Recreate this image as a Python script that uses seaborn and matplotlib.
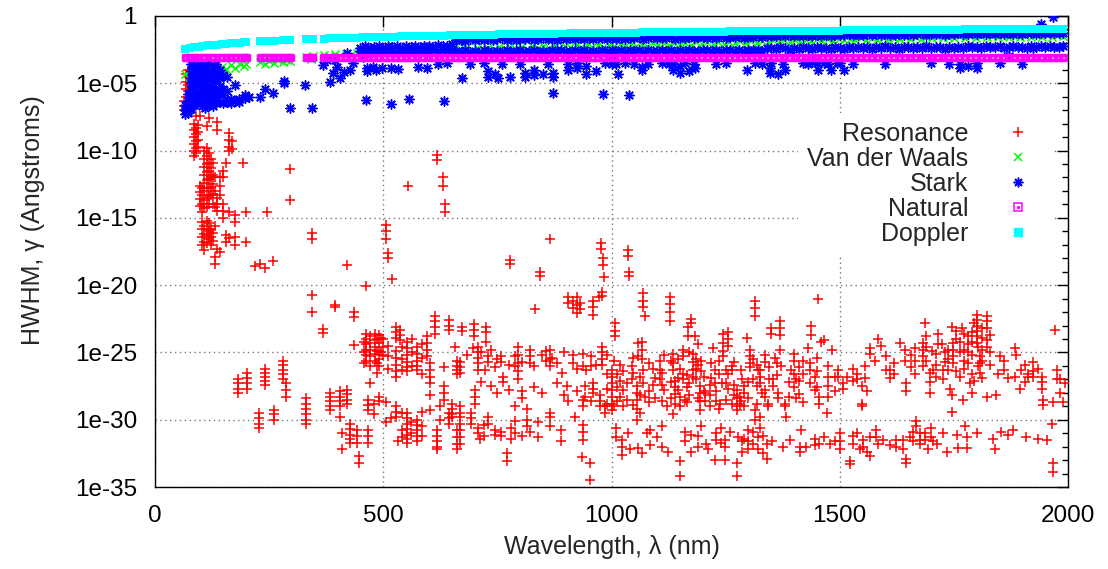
import numpy as np
import pandas as pd
import matplotlib
matplotlib.use("Agg")
import matplotlib.pyplot as plt
import seaborn as sns
from matplotlib.lines import Line2D
from matplotlib.legend_handler import HandlerTuple
from matplotlib.ticker import FixedLocator, FuncFormatter

# ---------------- data (wavelength in nm, HWHM as log10 exponent) ----------------
line_wl = [66, 76, 86, 96, 106, 116, 126, 136, 146, 156, 166, 176, 186, 196, 200,
           230, 240, 250, 260, 270, 280, 290, 296,
           331, 341, 346,
           370, 382, 394, 406, 418, 430, 442, 454, 466, 478, 490, 502, 514, 526, 538, 550, 562, 574, 586, 598,
           610, 622, 634, 646, 658, 670, 682, 694, 706, 718, 730, 742, 754, 766, 778, 790, 802, 814, 826, 838,
           850, 862, 874, 886, 898, 910, 922, 934, 946, 958, 970, 982, 994, 1006, 1018, 1030, 1042, 1054, 1066, 1078,
           1090, 1102, 1114, 1126, 1138, 1150, 1162, 1174, 1186, 1198, 1210, 1222, 1234, 1246, 1258, 1270, 1282, 1294, 1306, 1318,
           1330, 1342, 1354, 1366, 1378, 1390, 1402, 1414, 1426, 1438, 1450, 1462, 1474, 1486, 1498, 1510, 1522, 1534, 1546, 1558,
           1570, 1582, 1594, 1606, 1618, 1630, 1642, 1654, 1666, 1678, 1690, 1702, 1714, 1726, 1738, 1750, 1762, 1774, 1786, 1798,
           1810, 1822, 1834, 1846, 1858, 1870, 1882, 1894, 1906, 1918, 1930, 1942, 1954, 1966, 1978, 1990]

doppler_exp = [-2.43, -2.37, -2.32, -2.27, -2.23, -2.19, -2.15, -2.12, -2.09, -2.06, -2.03, -2.01, -1.98, -1.96, -1.95,
               -1.89, -1.87, -1.85, -1.84, -1.82, -1.80, -1.79, -1.78,
               -1.73, -1.72, -1.71,
               -1.68, -1.67, -1.66, -1.64, -1.63, -1.62, -1.61, -1.59, -1.58, -1.57, -1.56, -1.55, -1.54, -1.53, -1.52, -1.51, -1.50, -1.49, -1.48, -1.48,
               -1.47, -1.46, -1.45, -1.44, -1.43, -1.43, -1.42, -1.41, -1.40, -1.40, -1.39, -1.38, -1.37, -1.37, -1.36, -1.35, -1.35, -1.34, -1.34, -1.33,
               -1.32, -1.32, -1.31, -1.30, -1.30, -1.29, -1.29, -1.28, -1.28, -1.27, -1.27, -1.26, -1.25, -1.25, -1.24, -1.24, -1.23, -1.23, -1.22, -1.22,
               -1.21, -1.21, -1.21, -1.20, -1.20, -1.19, -1.19, -1.18, -1.18, -1.17, -1.17, -1.16, -1.16, -1.16, -1.15, -1.15, -1.14, -1.14, -1.14, -1.13,
               -1.13, -1.12, -1.12, -1.12, -1.11, -1.11, -1.11, -1.10, -1.10, -1.09, -1.09, -1.09, -1.08, -1.08, -1.08, -1.07, -1.07, -1.07, -1.06, -1.06,
               -1.06, -1.05, -1.05, -1.05, -1.04, -1.04, -1.04, -1.03, -1.03, -1.03, -1.02, -1.02, -1.02, -1.02, -1.01, -1.01, -1.01, -1.00, -1.00, -1.00,
               -0.99, -0.99, -0.99, -0.99, -0.98, -0.98, -0.98, -0.97, -0.97, -0.97, -0.97, -0.96, -0.96, -0.96, -0.96, -0.95]

natural_exp = [-3.07, -3.09, -3.06, -3.08, -3.07, -3.05, -3.08, -3.07, -3.09, -3.06, -3.08, -3.07, -3.06, -3.08, -3.07,
               -3.08, -3.06, -3.07, -3.09, -3.07, -3.06, -3.08, -3.07,
               -3.07, -3.08, -3.06,
               -3.07, -3.08, -3.06, -3.07, -3.09, -3.07, -3.06, -3.08, -3.07, -3.07, -3.08, -3.06, -3.07, -3.09, -3.07, -3.06, -3.08, -3.07, -3.07, -3.08,
               -3.07, -3.08, -3.06, -3.07, -3.09, -3.07, -3.06, -3.08, -3.07, -3.07, -3.08, -3.06, -3.07, -3.09, -3.07, -3.06, -3.08, -3.07, -3.07, -3.08,
               -3.07, -3.08, -3.06, -3.07, -3.09, -3.07, -3.06, -3.08, -3.07, -3.07, -3.08, -3.06, -3.07, -3.09, -3.07, -3.06, -3.08, -3.07, -3.07, -3.08,
               -3.07, -3.08, -3.06, -3.07, -3.09, -3.07, -3.06, -3.08, -3.07, -3.07, -3.08, -3.06, -3.07, -3.09, -3.07, -3.06, -3.08, -3.07, -3.07, -3.08,
               -3.07, -3.08, -3.06, -3.07, -3.09, -3.07, -3.06, -3.08, -3.07, -3.07, -3.08, -3.06, -3.07, -3.09, -3.07, -3.06, -3.08, -3.07, -3.07, -3.08,
               -3.07, -3.08, -3.06, -3.07, -3.09, -3.07, -3.06, -3.08, -3.07, -3.07, -3.08, -3.06, -3.07, -3.09, -3.07, -3.06, -3.08, -3.07, -3.07, -3.08,
               -3.07, -3.08, -3.06, -3.07, -3.09, -3.07, -3.06, -3.08, -3.07, -3.07, -3.08, -3.06, -3.07, -3.09, -3.07, -3.06]

vdw_exp = [-4.30, -4.55, -4.20, -4.35, -4.10, -4.25, -3.95, -4.10, -3.80, -3.95, -3.65, -3.85, -3.55, -3.70, -3.55,
           -3.40, -3.55, -3.35, -3.50, -3.30, -3.45, -3.25, -3.35,
           -3.05, -3.20, -3.00,
           -2.90, -3.00, -2.85, -2.95, -2.80, -2.90, -2.75, -2.85, -2.70, -2.80, -2.65, -2.75, -2.60, -2.70, -2.60, -2.70, -2.55, -2.65, -2.50, -2.62,
           -2.48, -2.60, -2.45, -2.58, -2.42, -2.55, -2.40, -2.52, -2.38, -2.50, -2.36, -2.48, -2.34, -2.46, -2.30, -2.44, -2.28, -2.42, -2.26, -2.40,
           -2.24, -2.38, -2.22, -2.36, -2.20, -2.34, -2.18, -2.32, -2.16, -2.30, -2.14, -2.28, -2.12, -2.26, -2.10, -2.24, -2.08, -2.22, -2.06, -2.20,
           -2.04, -2.18, -2.02, -2.16, -2.00, -2.14, -1.98, -2.12, -1.96, -2.10, -1.94, -2.08, -1.92, -2.06, -1.90, -2.04, -1.88, -2.02, -1.86, -2.00,
           -1.84, -1.96, -1.82, -1.94, -1.80, -1.92, -1.78, -1.90, -1.76, -1.88, -1.74, -1.86, -1.72, -1.84, -1.70, -1.82, -1.68, -1.80, -1.66, -1.78,
           -1.64, -1.76, -1.62, -1.74, -1.60, -1.72, -1.58, -1.70, -1.56, -1.68, -1.55, -1.66, -1.54, -1.64, -1.53, -1.63, -1.52, -1.62, -1.50, -1.60,
           -1.49, -1.59, -1.48, -1.58, -1.47, -1.57, -1.46, -1.56, -1.45, -1.55, -1.44, -1.54, -1.43, -1.53, -1.42, -1.52]

# Resonance broadening: (wavelength, exponents of lines at that wavelength)
res_uv = [
    (64, (-6.3, -6.7, -7.0)), (68, (-4.3, -4.9, -5.4, -6.0)), (72, (-4.0, -4.5, -5.1, -5.6)),
    (76, (-4.6, -5.3)), (80, (-5.0, -6.2)),
    (86, (-8.0, -8.5, -9.0, -9.5, -10.0, -10.4)), (90, (-7.4, -8.3, -8.8, -9.3, -9.8, -10.2)),
    (95, (-8.1, -8.6, -9.2, -9.7)), (99, (-7.4, -12.6, -13.1, -13.6, -14.1)),
    (103, (-12.8, -13.3, -14.0, -14.6, -15.3, -15.8, -16.4, -17.0)),
    (108, (-10.0, -10.6, -11.2, -11.8, -12.4, -13.0, -13.7, -14.3, -15.6, -16.2, -16.8, -17.4)),
    (113, (-8.2, -9.8, -10.4, -11.0, -11.6, -12.2, -12.8, -13.5, -14.2, -15.2, -15.8, -16.3, -16.9)),
    (118, (-7.6, -10.2, -10.9, -11.5, -12.1, -12.8, -13.4, -14.0, -15.4, -16.0, -16.6)),
    (123, (-10.6, -11.3, -12.0, -12.7, -13.3, -15.8, -16.4, -17.0)),
    (128, (-10.9, -11.8, -12.5, -13.2, -14.0, -16.1, -16.7)),
    (132, (-12.0, -13.0, -14.2, -15.6, -17.9, -18.4)),
    (136, (-7.9, -8.5, -13.5, -14.0, -14.5, -17.3)),
    (142, (-12.0, -12.6, -13.3, -17.5)), (148, (-11.5, -12.0, -14.0, -14.5, -15.0)),
    (156, (-10.9, -16.3, -16.8)), (162, (-8.7, -9.2, -9.7, -10.0, -14.6, -16.5)), (168, (-9.3, -9.9)),
    (176, (-14.8, -15.3, -16.4, -17.0)), (192, (-10.9,)), (199, (-14.6, -16.8)), (219, (-18.6,)),
    (230, (-18.4,)), (241, (-18.7,)), (246, (-14.6,)), (258, (-18.2,)), (296, (-11.4, -13.7)),
    (345, (-16.1, -16.6, -20.7, -22.0)),
]
res_mid = [
    (420, (-18.5,)), (505, (-15.5, -16.0, -16.6)), (510, (-17.6, -18.0)), (554, (-12.6,)),
    (618, (-10.3, -10.7)), (630, (-12.0, -12.6)), (635, (-14.0, -14.6)), (778, (-18.1, -18.4)),
    (865, (-16.6,)), (973, (-20.9,)), (977, (-16.9, -17.3)), (982, (-18.0, -18.5)), (1037, (-17.4, -17.8)),
]
res_cloud_w = [
    (182, (-27.0, -27.3, -27.7, -28.0)), (202, (-26.5, -26.9, -27.3, -27.7)),
    (228, (-29.5, -29.9, -30.3, -30.6)), (241, (-26.2, -26.5, -26.8, -27.1, -27.4)),
    (261, (-29.3, -29.6, -30.0)), (281, (-25.6, -25.9, -26.3, -26.6, -27.0)), (288, (-27.3, -27.8, -28.3)),
    (330, (-28.4, -28.8, -29.2, -29.6, -30.0, -30.3)), (368, (-23.28, -23.53)),
    (383, (-28.0, -28.3, -28.6, -29.0, -29.3)), (394, (-21.47, -21.65)),
    (405, (-27.9, -28.3, -28.6, -29.0, -29.8)), (409, (-31.0, -32.2)), (420, (-27.8, -28.1, -28.5, -28.8)),
    (427, (-30.3, -30.7, -31.1, -31.4, -31.7)), (436, (-22.02, -22.34, -24.44)), (442, (-30.8, -31.2, -31.7)),
    (447, (-32.7, -33.2)), (462, (-20.06,)), (463, (-23.6, -24.0, -24.4, -24.8, -25.2, -25.6)),
    (467, (-28.5, -28.9, -29.3, -30.8, -31.2, -31.7)), (472, (-23.8, -24.3, -24.8, -25.3, -26.0, -27.3)),
    (481, (-23.6, -24.1, -24.6, -25.1, -25.6)), (491, (-23.7, -24.3, -24.9, -25.5, -26.0, -28.3, -28.6)),
    (500, (-24.0, -24.6, -25.2)), (518, (-29.9,)), (520, (-19.56,)),
    (529, (-23.1, -23.5, -23.9, -24.9, -25.4, -25.9, -26.4, -26.8, -29.0, -29.4, -29.8)),
    (533, (-31.6,)), (537, (-23.3, -23.7, -24.1)),
    (551, (-24.2, -24.7, -25.2, -25.7, -26.1, -26.4, -29.5, -29.9, -30.3, -30.7, -31.1, -31.4, -31.7)),
    (573, (-24.6, -25.1, -25.6, -26.0, -26.3, -30.0, -30.4, -30.8, -31.2, -31.6)),
    (595, (-23.8, -24.3, -24.8, -25.3)), (602, (-25.8, -26.3, -26.8, -27.3, -28.2, -29.3)),
    (613, (-22.3, -22.7, -23.1, -23.6)), (617, (-30.8, -31.2, -31.6, -32.0, -32.2)),
    (632, (-26.05, -27.5, -28.0, -28.5)), (643, (-29.5, -29.9, -30.3)), (645, (-22.6, -23.0, -23.3)),
    (650, (-28.8, -29.2, -29.6, -29.8)), (657, (-24.6,)),
    (661, (-25.6, -26.0, -26.3, -26.6, -30.8, -31.3, -31.8, -32.2)),
]
res_cloud_c = [
    (668, (-25.7, -26.1, -26.5, -29.0, -29.5, -29.8, -30.3, -30.8, -31.3, -31.8)), (672, (-23.1, -23.4)),
    (683, (-25.2,)), (693, (-29.5, -29.9, -30.3)), (697, (-24.7,)), (699, (-22.9, -23.3, -23.8)),
    (701, (-27.8, -28.3, -28.8)), (708, (-24.6, -25.0, -25.4, -25.8, -26.3, -30.6, -31.0)), (712, (-31.4,)),
    (723, (-26.3,)), (725, (-23.1, -23.5, -24.2)), (730, (-25.3, -25.7, -29.8, -30.3)),
    (745, (-26.1, -30.8, -31.1)), (759, (-25.3, -25.7, -30.9, -31.2)), (763, (-26.8, -27.2)),
    (770, (-32.5, -33.1)), (788, (-25.3, -26.0, -29.0, -30.1, -31.0)), (796, (-24.6, -25.2, -25.8, -26.4, -27.0)),
    (803, (-27.9, -31.2)), (814, (-29.2, -30.0, -30.5)), (821, (-24.8, -25.3, -25.8, -30.9)),
    (832, (-21.8,)), (843, (-19.0, -19.3)), (856, (-24.9, -25.6)), (865, (-24.8, -25.5, -26.0, -29.5, -29.8, -30.5)),
    (869, (-25.4,)), (891, (-26.5,)), (902, (-27.5,)), (905, (-20.9, -21.3, -28.6)), (915, (-21.2, -21.7, -25.2, -25.8)),
    (920, (-29.8,)), (925, (-20.9, -21.5, -22.1)), (931, (-21.3, -21.8)), (935, (-32.8,)),
    (938, (-25.1, -26.0, -28.5, -29.0, -30.4, -30.9, -31.5)), (942, (-27.5, -28.3)), (945, (-26.3,)),
    (952, (-33.2, -34.5)), (960, (-21.2, -21.6, -22.2, -27.3, -27.7, -28.0)), (967, (-25.9,)),
    (975, (-28.2, -28.6, -29.0)), (980, (-20.5, -20.8, -24.6, -25.0, -25.5, -25.9)), (983, (-19.4,)),
    (985, (-29.0, -29.5)), (1000, (-26.3, -26.8, -27.3, -27.8, -28.3, -28.8, -29.3)), (1007, (-22.8, -23.4, -23.8)),
    (1012, (-26.6, -27.6, -28.6)), (1022, (-31.5, -32.0, -32.6)), (1033, (-27.3, -28.5)), (1037, (-31.0,)),
    (1038, (-19.0, -19.3)), (1040, (-32.2,)), (1044, (-26.0, -27.0)), (1055, (-27.5, -28.0, -28.5, -29.2, -30.0)),
    (1058, (-24.3, -25.3, -32.1)), (1066, (-24.2, -24.8, -25.5, -32.5)), (1069, (-20.6, -21.2, -21.6, -26.3, -27.3)),
    (1073, (-22.3, -28.3)), (1077, (-31.0,)), (1090, (-26.2, -27.4)), (1099, (-31.3,)), (1106, (-25.6, -26.3, -27.0)),
    (1115, (-25.2, -27.8)), (1121, (-29.0,)), (1124, (-32.4,)), (1128, (-20.9, -21.4, -22.0, -22.7)),
    (1135, (-25.1, -25.8, -26.3, -29.6)), (1139, (-27.1, -27.6, -28.1, -28.8)), (1150, (-26.2, -28.3, -29.0, -33.1, -34.2)),
    (1157, (-24.8, -25.3, -26.6, -27.0)), (1161, (-28.5,)), (1165, (-26.7, -27.6, -28.7)), (1168, (-23.1, -23.8)),
    (1175, (-22.5, -22.8, -31.1, -32.4)), (1179, (-25.1, -25.7, -26.3, -26.8)), (1183, (-23.8,)),
    (1186, (-25.5, -26.2, -27.0)), (1194, (-27.5, -28.0, -28.6, -29.3)), (1197, (-25.6, -26.4, -30.5)),
    (1205, (-28.0, -28.6)), (1208, (-31.8,)), (1212, (-32.2,)), (1215, (-27.4, -28.2, -29.0)), (1223, (-24.7,)),
    (1227, (-26.3, -27.3, -33.0)), (1230, (-27.9, -28.6, -31.0, -31.5)), (1237, (-28.8,)), (1241, (-27.3,)),
    (1245, (-23.6, -24.3, -24.9, -25.3)), (1248, (-31.5, -32.0, -33.0)), (1255, (-26.6, -27.7)),
    (1256, (-23.5, -24.0, -24.5)), (1260, (-30.9,)), (1263, (-26.0, -26.3, -28.8)),
    (1274, (-27.8, -28.4, -29.0, -29.3, -33.2, -34.2)), (1278, (-31.3,)), (1281, (-28.3, -28.8)), (1285, (-27.0,)),
    (1290, (-27.5, -28.0, -29.0, -31.4)), (1296, (-23.9,)), (1299, (-30.8, -31.6, -32.2)),
    (1303, (-24.8, -25.3, -25.8, -26.1)), (1310, (-25.5, -27.0)), (1314, (-21.2, -21.7, -22.3, -29.3, -30.0)),
    (1321, (-26.3, -31.3, -32.2)), (1329, (-28.0,)),
]
res_cloud_e = [
    (1325, (-26.3, -26.8, -27.3, -29.8, -30.6)), (1332, (-32.5, -31.2)), (1337, (-25.2, -25.7, -27.8, -28.3)),
    (1340, (-31.8, -32.9)), (1343, (-28.8, -29.0)), (1349, (-23.2, -23.6)), (1352, (-31.6,)), (1354, (-27.0, -27.5)),
    (1358, (-25.4,)), (1365, (-28.0, -28.4)), (1369, (-22.7, -23.2, -23.7, -24.8)), (1372, (-26.0,)), (1375, (-32.0,)),
    (1380, (-28.8, -29.0)), (1383, (-29.8,)), (1390, (-31.5,)), (1394, (-26.3,)), (1400, (-25.1, -25.6, -26.6, -27.6)),
    (1410, (-26.1, -27.1, -28.1)), (1413, (-32.0, -32.4)), (1416, (-30.8,)), (1420, (-25.6, -26.6, -28.7)),
    (1427, (-32.0,)), (1431, (-24.7,)), (1434, (-25.8, -26.3, -27.3)), (1438, (-23.0, -23.7)),
    (1445, (-26.8, -27.8, -31.4, -31.9)), (1453, (-21.0,)), (1455, (-28.3, -28.8, -31.8)), (1460, (-24.2,)),
    (1465, (-24.1, -31.3)), (1471, (-29.5,)), (1475, (-26.0, -26.8, -27.5, -28.3)), (1478, (-31.8,)), (1482, (-24.8,)),
    (1490, (-31.6,)), (1497, (-26.3, -26.8)), (1500, (-31.0, -31.6, -32.2)), (1508, (-27.3, -27.7)), (1515, (-26.8,)),
    (1522, (-33.1, -33.3)), (1530, (-31.2, -31.8)), (1537, (-26.6, -27.0, -31.0)), (1545, (-32.2,)),
    (1548, (-27.5, -28.8, -29.0)), (1551, (-31.5, -32.0)), (1559, (-27.9, -32.4)), (1566, (-24.7, -25.1, -31.3, -32.7)),
    (1577, (-25.6,)), (1580, (-30.8, -31.3)), (1584, (-24.0, -31.8)), (1591, (-24.5,)), (1595, (-31.5,)),
    (1602, (-25.3, -26.3)), (1610, (-26.3, -26.9, -31.9)), (1624, (-31.5, -32.0)), (1632, (-24.3,)),
    (1639, (-31.5, -32.2)), (1643, (-24.8, -25.6)), (1646, (-27.3, -27.9, -32.9, -33.2)), (1654, (-31.3,)),
    (1660, (-30.9, -31.6)), (1668, (-30.1, -30.5)), (1675, (-31.0, -31.5, -31.8)), (1683, (-24.3, -24.8, -25.3, -26.0)),
    (1686, (-22.8, -31.0, -31.5)), (1694, (-32.2,)), (1697, (-26.5, -27.2, -28.0)), (1700, (-30.6, -31.3)),
    (1703, (-24.9,)), (1705, (-26.3, -31.6)), (1712, (-31.8,)), (1723, (-24.4,)), (1727, (-26.3, -27.0, -31.0)),
    (1734, (-32.4,)), (1737, (-24.8, -25.5, -26.3)), (1741, (-27.7,)), (1745, (-23.1, -28.2, -29.4)),
    (1748, (-24.3, -24.8, -25.3, -25.8)), (1756, (-31.1,)), (1759, (-32.1,)), (1763, (-24.2, -25.0, -26.8)),
    (1767, (-23.2,)), (1770, (-28.5,)), (1774, (-30.5,)), (1778, (-31.3, -32.1)), (1781, (-23.8, -24.4, -25.0, -25.8)),
    (1785, (-27.3,)), (1789, (-28.0,)), (1800, (-22.2, -22.6, -23.0, -23.4, -23.8, -24.3, -31.0)),
    (1803, (-24.6, -26.0)), (1807, (-25.3, -25.8, -26.5)), (1822, (-22.3, -22.7, -23.2, -24.1, -24.6, -28.3)),
    (1836, (-31.4,)), (1840, (-32.2,)), (1843, (-28.2,)), (1847, (-26.6,)), (1851, (-25.3,)), (1854, (-30.9,)),
    (1869, (-31.1, -26.9)), (1880, (-30.8,)), (1883, (-26.8, -24.7)), (1887, (-25.2,)), (1894, (-27.7,)),
    (1898, (-26.3,)), (1909, (-31.3,)), (1913, (-26.6, -26.8)), (1924, (-25.7, -26.4, -26.8)), (1934, (-26.2, -31.4)),
    (1942, (-26.8, -27.2, -27.7)), (1946, (-28.5, -28.9)), (1953, (-31.5,)), (1964, (-30.3,)),
    (1967, (-28.7, -33.2, -33.9)), (1971, (-23.3,)), (1975, (-26.3, -27.0)), (1982, (-27.0, -28.0)),
    (1989, (-28.7,)), (1993, (-27.3,)),
]
res_fill = [
    (458, (-24.2, -25.0, -25.8)), (486, (-24.0, -24.9, -25.8, -26.5)), (496, (-23.9, -25.0)),
    (510, (-24.5, -25.3, -26.2)), (541, (-24.6, -25.5, -26.3)), (562, (-24.0, -25.0, -26.0)), (585, (-24.4, -25.4, -26.6)),
    (480, (-28.8, -29.6)), (505, (-28.7, -30.2)), (540, (-29.5, -30.8, -31.3)), (560, (-30.2, -31.0)),
    (585, (-29.4, -30.5, -31.2)), (625, (-29.0, -30.0)),
    (715, (-25.0, -27.2)), (735, (-24.8, -27.5)), (750, (-25.5, -28.0)), (775, (-25.9, -27.8)), (805, (-25.7, -28.4)),
    (830, (-26.0, -27.6)), (848, (-25.2, -28.0)), (880, (-25.8, -27.3)), (895, (-25.0, -28.2)), (925, (-26.2, -27.9)),
    (955, (-25.3, -26.0, -28.6)), (990, (-25.2, -26.6, -27.7, -28.8)), (1005, (-25.6, -29.0)),
    (1018, (-25.9, -27.1, -28.3)), (1025, (-26.4, -27.8, -29.0)), (1048, (-25.4, -26.5, -28.9)),
    (1062, (-26.8, -28.2, -29.5)), (1082, (-25.8, -27.9, -28.7)), (1095, (-26.9, -28.4)),
    (1110, (-26.5, -27.4, -28.6)), (1130, (-25.6, -27.2, -28.4)), (1145, (-25.5, -26.9, -27.8)),
    (1170, (-25.0, -27.3, -28.2)), (1190, (-24.4, -25.9, -28.4)), (1202, (-26.8, -27.9)), (1218, (-25.8, -26.9)),
    (1235, (-25.6, -26.6, -29.2)), (1250, (-26.3, -27.3, -28.5)), (1268, (-25.7, -27.4, -28.2)),
    (1283, (-26.3, -28.6)), (1300, (-27.2, -28.4)), (1318, (-25.9, -27.5, -28.8)),
    (720, (-30.4, -31.2)), (780, (-30.6, -31.4)), (840, (-30.2, -31.3)), (890, (-30.8, -31.6)), (1010, (-30.6, -31.3)),
    (1085, (-30.8, -31.9)), (1110, (-30.5, -32.0)), (1160, (-30.9, -31.6)), (1190, (-31.2, -32.0)),
    (1240, (-30.6, -31.7)), (1285, (-31.6, -32.4)), (1310, (-30.9, -31.8)),
    (1345, (-26.1, -27.0)), (1362, (-25.8, -26.7)), (1388, (-27.2, -28.3)), (1405, (-27.0, -28.4)),
    (1450, (-25.4, -26.4, -27.6)), (1490, (-26.8, -27.9)), (1528, (-26.2, -27.1)), (1555, (-26.0, -26.9)),
    (1618, (-25.8, -26.6)), (1655, (-25.2, -26.1)), (1665, (-24.7, -25.6, -26.6)), (1690, (-23.8, -24.6, -25.6)),
    (1710, (-25.1, -25.9, -26.8)), (1716, (-23.6, -24.4)), (1730, (-25.0, -25.7)), (1755, (-23.4, -24.0, -26.4)),
    (1772, (-23.6, -24.8, -25.6, -26.2)), (1790, (-23.5, -24.2, -25.2, -26.6)), (1795, (-22.8, -27.1)),
    (1812, (-23.2, -23.9, -24.8, -25.6, -26.9)), (1830, (-23.7, -25.0, -25.9)), (1860, (-25.6, -26.3)),
    (1905, (-25.9, -27.2)),
]

# Stark broadening
stark_uv = [
    (66, (-6.6, -7.0, -7.3)), (72, (-5.8, -6.3, -6.8, -7.2)),
    (78, (-3.6, -4.1, -4.6, -5.0, -5.5, -6.0, -6.5, -6.9)), (86, (-3.4, -3.9, -4.4, -4.8, -5.3, -5.7, -6.2, -6.6)),
    (94, (-3.5, -3.8, -4.2, -4.7, -5.1, -5.6, -6.0, -6.4)), (102, (-3.4, -3.9, -4.3, -4.9, -5.4, -5.8, -6.3, -6.7)),
    (110, (-3.6, -4.0, -4.5, -5.0, -5.5, -5.9, -6.4, -6.8)), (118, (-3.5, -4.1, -4.6, -5.2, -5.6, -6.1, -6.6)),
    (126, (-3.8, -4.3, -4.8, -5.3, -5.8, -6.3, -6.7)), (134, (-3.6, -4.2, -4.7, -5.5, -6.0, -6.5)),
    (142, (-4.0, -4.6, -5.2, -5.8, -6.4)), (150, (-4.4, -5.4, -5.9, -6.5)), (158, (-4.5, -5.6, -6.4)),
    (166, (-6.2, -6.5)), (175, (-5.1, -6.3)), (185, (-6.2, -6.4)), (197, (-5.9, -6.1)), (205, (-6.0,)),
    (230, (-6.0,)), (241, (-5.4,)), (259, (-5.75,)), (283, (-4.8, -4.95)), (296, (-6.8,)), (329, (-5.1,)), (345, (-6.8,)),
]
stark_vis = [
    (369, (-3.64,)), (376, (-3.27,)), (383, (-4.88,)), (389, (-4.26,)), (394, (-3.27,)), (398, (-3.76,)),
    (405, (-4.63,)), (413, (-4.14,)), (420, (-2.77,)), (427, (-4.01,)), (434, (-3.52,)), (456, (-3.02,)),
    (462, (-6.24,)), (465, (-3.9, -4.1)), (478, (-3.8,)), (485, (-4.0,)),
    (498, (-3.9,)), (518, (-6.56, -3.9)), (533, (-3.96,)),
    (557, (-6.19,)), (577, (-3.77,)), (595, (-3.89,)), (632, (-6.31,)),
]
stark_band = [
    (780, (-2.85,)), (940, (-2.85,)), (1000, (-2.9,)),
    (1940, (-0.6,)), (1967, (-0.07,)),
]
stark_low = [
    (672, (-4.6,)), (730, (-4.1, -4.5)), (745, (-4.3,)), (752, (-4.6,)), (777, (-4.5,)), (810, (-4.2, -4.5)),
    (830, (-4.0, -4.4)), (850, (-4.3,)), (871, (-4.2, -4.5, -5.7)), (905, (-3.6, -4.0)), (925, (-3.5, -3.9)),
    (945, (-3.7, -4.3)), (965, (-4.1,)), (982, (-5.8,)), (985, (-3.5,)), (1000, (-3.6,)), (1015, (-4.3,)),
    (1038, (-5.9,)), (1066, (-3.8, -4.0)), (1135, (-3.6, -4.0)), (1150, (-3.7, -4.2)), (1170, (-4.1,)),
    (1183, (-3.9,)), (1296, (-4.0,)), (1314, (-3.5,)), (1347, (-3.9, -4.2)), (1365, (-4.3,)), (1380, (-4.0,)),
    (1420, (-3.5,)), (1440, (-3.4,)), (1453, (-4.0,)), (1465, (-3.5,)), (1480, (-4.0,)), (1493, (-3.5,)),
    (1510, (-4.0,)), (1763, (-3.6, -3.9)), (1780, (-3.7,)), (1800, (-3.5, -3.9)), (1870, (-3.0,)), (1924, (-2.4,)),
    (620, (-3.6,)), (640, (-3.5,)), (690, (-3.6,)), (720, (-3.5,)), (760, (-3.6,)), (800, (-3.55,)),
    (860, (-3.6,)), (1010, (-3.55,)), (1030, (-3.5,)), (1050, (-3.6,)), (1080, (-3.55,)), (1110, (-3.5,)),
    (1125, (-3.6,)), (1160, (-3.5,)), (1180, (-3.55,)), (1230, (-3.6,)), (1250, (-3.5,)), (1330, (-3.55,)),
    (1350, (-3.5,)), (1375, (-3.6,)), (1430, (-3.55,)), (1450, (-3.5,)), (1475, (-3.6,)), (1500, (-3.5,)),
    (1530, (-3.55,)), (1600, (-3.6,)), (1700, (-3.5,)), (1740, (-3.6,)), (1850, (-3.5,)), (1900, (-3.55,)),
]
# dense Stark band just below the Doppler band (upper and lower rows)
stark_dense_wl = [450, 460, 470, 480, 490, 500, 510, 520, 530, 540, 550, 560, 570, 580, 590, 600, 610, 620, 630, 640, 650,
                  660, 670, 680, 690, 700, 710, 720, 730, 740, 750, 760, 770, 780, 790, 800, 810, 820, 830, 840, 850,
                  860, 870, 880, 890, 900, 910, 920, 930, 940, 950, 960, 970, 980, 990, 1000, 1010, 1020, 1030, 1040,
                  1050, 1060, 1070, 1080, 1090, 1100, 1110, 1120, 1130, 1140, 1150, 1160, 1170, 1180, 1190, 1200, 1210,
                  1220, 1230, 1240, 1250, 1260, 1270, 1280, 1290, 1300, 1310, 1320, 1330,
                  1340, 1350, 1360, 1370, 1380, 1390, 1400, 1410, 1420, 1430, 1440, 1450, 1460, 1470, 1480, 1490, 1500,
                  1510, 1520, 1530, 1540, 1550, 1560, 1570, 1580, 1590, 1600, 1610, 1620, 1630, 1640, 1650, 1660, 1670,
                  1680, 1690, 1700, 1710, 1720, 1730, 1740, 1750, 1760, 1770, 1780, 1790, 1800, 1810, 1820, 1830, 1840,
                  1850, 1860, 1870, 1880, 1890, 1900, 1910, 1920, 1930, 1940, 1950, 1960, 1970, 1980, 1990]
stark_dense_hi = [-2.35, -2.25, -2.40, -2.30, -2.20, -2.35, -2.25, -2.30, -2.20, -2.35, -2.25, -2.30, -2.20, -2.30, -2.25,
                  -2.20, -2.30, -2.15, -2.25, -2.20, -2.10,
                  -1.80, -1.75, -1.85, -1.72, -1.80, -1.70, -1.78, -1.68, -1.82, -1.72, -1.66, -1.76, -1.70, -1.80, -1.68,
                  -1.74, -1.66, -1.78, -1.70, -1.64,
                  -1.72, -1.68, -1.76, -1.65, -1.70, -1.62, -1.74, -1.66, -1.70, -1.63, -1.72, -1.66, -1.60, -1.70, -1.64,
                  -1.68, -1.60, -1.72, -1.64,
                  -1.66, -1.58, -1.68, -1.62, -1.56, -1.66, -1.60, -1.64, -1.56, -1.68, -1.60, -1.62, -1.55, -1.64, -1.58,
                  -1.54, -1.62,
                  -1.56, -1.60, -1.52, -1.62, -1.56, -1.58, -1.52, -1.60, -1.54, -1.56, -1.50, -1.58,
                  -1.50, -1.45, -1.52, -1.44, -1.48, -1.42, -1.50, -1.44, -1.46, -1.40, -1.48, -1.42, -1.45, -1.40, -1.46,
                  -1.38, -1.44,
                  -1.40, -1.36, -1.44, -1.38, -1.42, -1.35, -1.40, -1.36, -1.42, -1.34, -1.38, -1.40, -1.34, -1.38, -1.32,
                  -1.40, -1.35,
                  -1.30, -1.38, -1.34, -1.36, -1.30, -1.38, -1.32, -1.35, -1.30, -1.36, -1.32, -1.28, -1.34, -1.30, -1.33,
                  -1.27, -1.32,
                  -1.29, -1.35, -1.28, -1.31, -1.27, -1.33, -1.29, -1.26, -1.31, -1.28, -1.30, -1.26, -1.30, -1.28, -1.27]
stark_dense_lo = [-2.60, -2.65, -2.55, -2.70, -2.60, -2.55, -2.65, -2.60, -2.70, -2.55, -2.62, -2.58, -2.66, -2.55, -2.60,
                  -2.65, -2.55, -2.60, -2.50, -2.58, -2.55,
                  -2.60, -2.70, -2.55, -2.65, -2.60, -2.72, -2.55, -2.62, -2.68, -2.58, -2.64, -2.55, -2.70, -2.60, -2.56,
                  -2.66, -2.60, -2.52, -2.64, -2.58,
                  -2.68, -2.55, -2.62, -2.50, -2.60, -2.66, -2.56, -2.62, -2.52, -2.64, -2.58, -2.68, -2.55, -2.60, -2.50,
                  -2.62, -2.56, -2.66, -2.52,
                  -2.60, -2.55, -2.64, -2.50, -2.58, -2.62, -2.54, -2.60, -2.50, -2.64, -2.56, -2.60, -2.52, -2.58, -2.62,
                  -2.50, -2.56,
                  -2.60, -2.52, -2.62, -2.55, -2.50, -2.58, -2.54, -2.60, -2.50, -2.56, -2.52, -2.60,
                  -2.40, -2.35, -2.45, -2.30, -2.40, -2.50, -2.35, -2.42, -2.30, -2.38, -2.46, -2.32, -2.40, -2.35, -2.44,
                  -2.30, -2.38,
                  -2.42, -2.32, -2.36, -2.28, -2.40, -2.34, -2.44, -2.30, -2.36, -2.26, -2.38, -2.32, -2.42, -2.28, -2.34,
                  -2.40, -2.30,
                  -2.36, -2.26, -2.38, -2.30, -2.34, -2.42, -2.28, -2.35, -2.30, -2.40, -2.26, -2.32, -2.28, -2.36, -2.24,
                  -2.30, -2.34,
                  -2.26, -2.40, -2.30, -2.24, -2.32, -2.28, -2.36, -2.24, -2.30, -2.26, -2.32, -2.24, -2.28, -2.30, -2.26]

series_labels = ["Resonance", "Van der Waals", "Stark", "Natural", "Doppler"]
series_colors = ["#ff0000", "#00ff00", "#0000ff", "#ff00ff", "#00ffff"]


def expand(*groups):
    xs, es = [], []
    for g in groups:
        for w, vals in g:
            for v in vals:
                xs.append(w)
                es.append(v)
    return pd.DataFrame({"wl": xs, "hwhm": 10.0 ** np.array(es)})


def paired(xs, es):
    n = min(len(xs), len(es))
    return pd.DataFrame({"wl": xs[:n], "hwhm": 10.0 ** np.array(es[:n])})


df_res = expand(res_uv, res_mid, res_cloud_w, res_cloud_c, res_cloud_e, res_fill)
df_stark = pd.concat([
    expand(stark_uv, stark_vis, stark_band, stark_low),
    paired(stark_dense_wl, stark_dense_hi),
    paired(stark_dense_wl, stark_dense_lo),
], ignore_index=True)
df_vdw = paired(line_wl, vdw_exp)
df_nat = paired(line_wl, natural_exp)
df_dop = paired(line_wl, doppler_exp)

# ---------------- figure ----------------
sns.set_style("white")
plt.rcParams["font.family"] = ["Liberation Sans", "DejaVu Sans"]
plt.rcParams["font.size"] = 17.5

fig, ax = plt.subplots(figsize=(11.08, 5.69), dpi=100)
fig.subplots_adjust(left=155 / 1108, right=1068 / 1108, bottom=1 - 487 / 569, top=1 - 16 / 569)
ax.set_yscale("log")
ax.set_xlim(0, 2000)
ax.set_ylim(1e-35, 1)

asterisk = (8, 2, 0)
sns.scatterplot(data=df_res, x="wl", y="hwhm", marker="+", s=44, color=series_colors[0],
                linewidth=1.1, ax=ax, legend=False, zorder=3)
sns.scatterplot(data=df_vdw, x="wl", y="hwhm", marker="x", s=34, color=series_colors[1],
                linewidth=1.1, ax=ax, legend=False, zorder=3)
sns.scatterplot(data=df_stark, x="wl", y="hwhm", marker=asterisk, s=44, color=series_colors[2],
                linewidth=1.1, ax=ax, legend=False, zorder=3)
sns.scatterplot(data=df_nat, x="wl", y="hwhm", marker="s", s=12, color=series_colors[3],
                facecolor="none", edgecolor=series_colors[3], linewidth=2.5, ax=ax, legend=False, zorder=3)
sns.scatterplot(data=df_dop, x="wl", y="hwhm", marker="s", s=33, color=series_colors[4],
                edgecolor="none", linewidth=0, ax=ax, legend=False, zorder=3)

# axes styling
ax.yaxis.set_major_locator(FixedLocator([10.0 ** -k for k in range(0, 36, 5)]))
ax.yaxis.set_minor_locator(FixedLocator([10.0 ** -k for k in range(0, 36)]))


def yfmt(v, p):
    k = int(round(-np.log10(v)))
    return "1" if k == 0 else "1e-%02d" % k


ax.yaxis.set_major_formatter(FuncFormatter(yfmt))
ax.yaxis.set_minor_formatter(FuncFormatter(lambda v, p: ""))
ax.xaxis.set_major_locator(FixedLocator([0, 500, 1000, 1500, 2000]))
ax.xaxis.set_major_formatter(FuncFormatter(lambda v, p: "%d" % v))
ax.tick_params(which="both", direction="in", top=True, right=True, colors="black", labelsize=17.5)
ax.tick_params(which="major", length=8, width=1)
ax.tick_params(which="minor", length=4, width=1)
ax.tick_params(axis="y", pad=13)
ax.tick_params(axis="x", pad=13)
for sp in ax.spines.values():
    sp.set_color("black")
    sp.set_linewidth(1.0)

ax.grid(True, which="major", color="#777777", linestyle=(0, (1, 2.5)), linewidth=1.0)
ax.set_axisbelow(True)

ax.set_xlabel("Wavelength, \u03bb (nm)", fontsize=18)
ax.set_ylabel("HWHM, \u03b3 (Angstroms)", fontsize=18)
ax.xaxis.set_label_coords(0.5, -0.102)
ax.yaxis.set_label_coords(-0.1205, 0.567)

# legend in gnuplot style: labels right-aligned (markerfirst=False), samples on the right
handles = [
    Line2D([], [], ls="none", marker="+", ms=7, mew=1.1, color=series_colors[0]),
    Line2D([], [], ls="none", marker="x", ms=6, mew=1.1, color=series_colors[1]),
    Line2D([], [], ls="none", marker=asterisk, ms=7, mew=1.1, color=series_colors[2]),
    (Line2D([], [], ls="none", marker="s", ms=6, mfc="none", mec=series_colors[3], mew=1.1),
     Line2D([], [], ls="none", marker="s", ms=1.2, color=series_colors[3])),
    Line2D([], [], ls="none", marker="s", ms=6, color=series_colors[4], mec=series_colors[4]),
]
leg = ax.legend(handles, series_labels, handler_map={tuple: HandlerTuple(ndivide=1, pad=0)},
                markerfirst=False, loc="upper right", bbox_to_anchor=(0.9825, 0.794),
                frameon=True, framealpha=1, facecolor="white", edgecolor="none", fancybox=False,
                fontsize=18, handlelength=2.0, handletextpad=1.0, borderpad=0.35,
                labelspacing=0.04, borderaxespad=0)
leg.set_zorder(5)

fig.savefig("out.png", dpi=100)
